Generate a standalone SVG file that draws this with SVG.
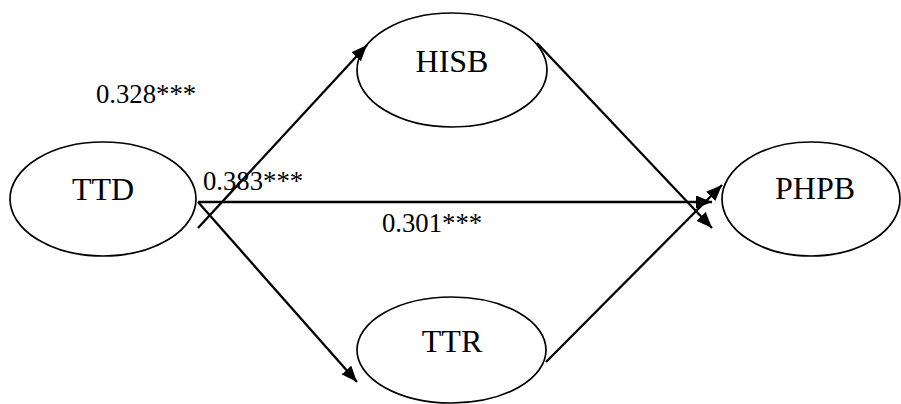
<svg xmlns="http://www.w3.org/2000/svg" width="901" height="404" viewBox="0 0 901 404">
  <style>
    .node ellipse { fill: #ffffff; stroke: #000000; stroke-width: 1.7; }
    .node text { font-family: "Liberation Serif", "Times New Roman", serif; font-size: 32px; fill: #000000; text-anchor: middle; }
    .edge { stroke: #000000; stroke-width: 2.3; fill: none; marker-end: url(#arrow); }
    .coef { font-family: "Liberation Serif", "Times New Roman", serif; font-size: 26.7px; fill: #000000; }
  </style>
  <defs>
    <marker id="arrow" markerUnits="userSpaceOnUse" markerWidth="18" markerHeight="14" refX="16" refY="6.5" orient="auto">
      <path d="M0,0 L16,6.5 L0,13 Z" fill="#000000"/>
    </marker>
  </defs>
  <rect width="901" height="404" fill="#ffffff"/>

  <g id="TTD" class="node">
    <ellipse cx="103" cy="199" rx="93" ry="57"/>
    <text x="103" y="200">TTD</text>
  </g>
  <g id="HISB" class="node">
    <ellipse cx="452" cy="70" rx="95" ry="57"/>
    <text x="452" y="72">HISB</text>
  </g>
  <g id="TTR" class="node">
    <ellipse cx="451.5" cy="350" rx="94.5" ry="53"/>
    <text x="452" y="352">TTR</text>
  </g>
  <g id="PHPB" class="node">
    <ellipse cx="811" cy="199" rx="89" ry="57"/>
    <text x="815" y="199">PHPB</text>
  </g>

  <g id="connectors">
    <line class="edge" x1="198" y1="228" x2="367" y2="45"/>
    <line class="edge" x1="198" y1="202" x2="712" y2="202"/>
    <line class="edge" x1="198" y1="202" x2="357" y2="382"/>
    <line class="edge" x1="537" y1="43" x2="712" y2="228"/>
    <line class="edge" x1="546" y1="362" x2="722" y2="185"/>
  </g>

  <g id="coefficients">
    <text class="coef" x="96" y="103">0.328***</text>
    <text class="coef" x="203" y="190">0.383***</text>
    <text class="coef" x="382" y="232">0.301***</text>
  </g>
</svg>
